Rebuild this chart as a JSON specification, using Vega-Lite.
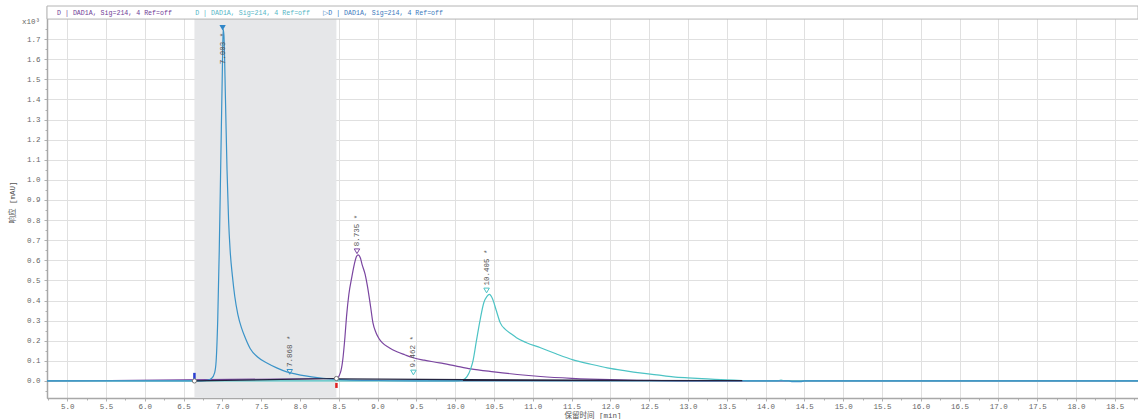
{
  "$schema": "https://vega.github.io/schema/vega-lite/v6.json",
  "width": 1091,
  "height": 392,
  "autosize": {"type": "none"},
  "padding": {"left": 47, "top": 6, "right": 0, "bottom": 21},
  "background": "white",
  "config": {
    "view": {"stroke": "#b4b4b4"},
    "axis": {
      "labelFont": "Liberation Mono",
      "labelFontSize": 7.5,
      "labelColor": "#666666",
      "labelOverlap": false,
      "titleFont": "Liberation Mono, Noto Sans CJK SC",
      "titleFontSize": 7.5,
      "titleFontWeight": "normal",
      "titleColor": "#555555",
      "grid": true,
      "gridColor": "#e0e0e0",
      "domainColor": "#a8a8a8",
      "domainWidth": 1.5,
      "tickColor": "#b0b0b0",
      "tickCount": 200
    }
  },
  "datasets": {
    "traces": [
      {"s":"p","t":4.74,"v":0},{"s":"p","t":8.47,"v":0.012},{"s":"p","t":8.52,"v":0.04},{"s":"p","t":8.55,"v":0.1},{"s":"p","t":8.58,"v":0.22},{"s":"p","t":8.6,"v":0.32},{"s":"p","t":8.63,"v":0.43},{"s":"p","t":8.67,"v":0.52},{"s":"p","t":8.7,"v":0.58},{"s":"p","t":8.73,"v":0.62},{"s":"p","t":8.75,"v":0.627},{"s":"p","t":8.78,"v":0.61},{"s":"p","t":8.8,"v":0.58},{"s":"p","t":8.84,"v":0.53},{"s":"p","t":8.87,"v":0.47},{"s":"p","t":8.91,"v":0.37},{"s":"p","t":8.94,"v":0.29},{"s":"p","t":8.98,"v":0.24},{"s":"p","t":9.02,"v":0.21},{"s":"p","t":9.06,"v":0.19},{"s":"p","t":9.15,"v":0.165},{"s":"p","t":9.25,"v":0.145},{"s":"p","t":9.35,"v":0.13},{"s":"p","t":9.46,"v":0.115},{"s":"p","t":9.6,"v":0.103},{"s":"p","t":9.8,"v":0.09},{"s":"p","t":10.0,"v":0.075},{"s":"p","t":10.2,"v":0.06},{"s":"p","t":10.5,"v":0.045},{"s":"p","t":10.8,"v":0.032},{"s":"p","t":11.1,"v":0.022},{"s":"p","t":11.5,"v":0.013},{"s":"p","t":12.0,"v":0.006},{"s":"p","t":12.4,"v":0.003},{"s":"p","t":13.0,"v":0},{"s":"p","t":18.8,"v":0},
      {"s":"c","t":4.74,"v":0},{"s":"c","t":10.0,"v":0},{"s":"c","t":10.1,"v":0.005},{"s":"c","t":10.15,"v":0.02},{"s":"c","t":10.2,"v":0.06},{"s":"c","t":10.23,"v":0.1},{"s":"c","t":10.27,"v":0.19},{"s":"c","t":10.32,"v":0.3},{"s":"c","t":10.37,"v":0.39},{"s":"c","t":10.41,"v":0.42},{"s":"c","t":10.44,"v":0.43},{"s":"c","t":10.48,"v":0.41},{"s":"c","t":10.53,"v":0.35},{"s":"c","t":10.58,"v":0.29},{"s":"c","t":10.65,"v":0.255},{"s":"c","t":10.72,"v":0.235},{"s":"c","t":10.79,"v":0.215},{"s":"c","t":10.92,"v":0.19},{"s":"c","t":11.1,"v":0.165},{"s":"c","t":11.3,"v":0.135},{"s":"c","t":11.52,"v":0.105},{"s":"c","t":11.75,"v":0.083},{"s":"c","t":11.96,"v":0.065},{"s":"c","t":12.2,"v":0.05},{"s":"c","t":12.38,"v":0.04},{"s":"c","t":12.6,"v":0.03},{"s":"c","t":12.81,"v":0.02},{"s":"c","t":13.0,"v":0.015},{"s":"c","t":13.25,"v":0.01},{"s":"c","t":13.5,"v":0.005},{"s":"c","t":13.7,"v":0.002},{"s":"c","t":13.8,"v":0},{"s":"c","t":14.15,"v":0},{"s":"c","t":14.2,"v":0.004},{"s":"c","t":14.25,"v":0},{"s":"c","t":18.8,"v":0},
      {"s":"b","t":4.74,"v":0},{"s":"b","t":6.64,"v":0},{"s":"b","t":6.8,"v":0.003},{"s":"b","t":6.86,"v":0.012},{"s":"b","t":6.9,"v":0.04},{"s":"b","t":6.92,"v":0.1},{"s":"b","t":6.94,"v":0.3},{"s":"b","t":6.96,"v":0.65},{"s":"b","t":6.98,"v":1.1},{"s":"b","t":7.0,"v":1.55},{"s":"b","t":7.01,"v":1.75},{"s":"b","t":7.02,"v":1.72},{"s":"b","t":7.04,"v":1.4},{"s":"b","t":7.06,"v":1.05},{"s":"b","t":7.08,"v":0.8},{"s":"b","t":7.1,"v":0.65},{"s":"b","t":7.13,"v":0.52},{"s":"b","t":7.16,"v":0.42},{"s":"b","t":7.2,"v":0.33},{"s":"b","t":7.25,"v":0.26},{"s":"b","t":7.3,"v":0.21},{"s":"b","t":7.36,"v":0.16},{"s":"b","t":7.45,"v":0.12},{"s":"b","t":7.58,"v":0.088},{"s":"b","t":7.7,"v":0.065},{"s":"b","t":7.83,"v":0.045},{"s":"b","t":7.95,"v":0.034},{"s":"b","t":8.05,"v":0.026},{"s":"b","t":8.15,"v":0.02},{"s":"b","t":8.3,"v":0.013},{"s":"b","t":8.45,"v":0.008},{"s":"b","t":8.6,"v":0.005},{"s":"b","t":9.0,"v":0.002},{"s":"b","t":9.5,"v":0},{"s":"b","t":14.3,"v":0},{"s":"b","t":14.35,"v":-0.004},{"s":"b","t":14.45,"v":-0.004},{"s":"b","t":14.5,"v":0},{"s":"b","t":18.8,"v":0}
    ],
    "bases": [
      {"g":1,"t":6.64,"v":0},{"g":1,"t":8.47,"v":0.012},
      {"g":2,"t":8.47,"v":0.01},{"g":2,"t":12.5,"v":0.002},
      {"g":3,"t":10.1,"v":0.003},{"g":3,"t":13.7,"v":0.001}
    ],
    "window": [{"start":6.64,"end":8.47}],
    "anchors": [{"t":6.64,"v":0},{"t":8.47,"v":0.012}],
    "events": [{"t":6.64,"lo":0.005,"hi":0.04,"kind":"start"},{"t":8.47,"lo":-0.01,"hi":-0.035,"kind":"end"}],
    "peaks": [
      {"s":"b","t":7.003,"v":1.757,"label":"7.003 *"},
      {"s":"b","t":7.868,"v":0.03,"label":"7.868 *"},
      {"s":"p","t":8.735,"v":0.63,"label":"8.735 *"},
      {"s":"c","t":9.462,"v":0.027,"label":"9.462 *"},
      {"s":"c","t":10.405,"v":0.435,"label":"10.405 *"}
    ]
  },
  "layer": [
    {
      "data": {"name": "window"},
      "mark": {"type": "rect", "color": "#e6e7e9"},
      "encoding": {
        "x": {"field": "start", "type": "quantitative", "title": "保留时间 [min]",
          "scale": {"domain": [4.74, 18.8], "nice": false, "zero": false},
          "axis": {
            "values": [4.75,5,5.25,5.5,5.75,6,6.25,6.5,6.75,7,7.25,7.5,7.75,8,8.25,8.5,8.75,9,9.25,9.5,9.75,10,10.25,10.5,10.75,11,11.25,11.5,11.75,12,12.25,12.5,12.75,13,13.25,13.5,13.75,14,14.25,14.5,14.75,15,15.25,15.5,15.75,16,16.25,16.5,16.75,17,17.25,17.5,17.75,18,18.25,18.5,18.75],
            "labelExpr": "abs(round(datum.value*2) - datum.value*2) > 0.01 ? '' : format(datum.value, '.1f')",
            "tickSize": {"condition": {"test": "abs(round(datum.value*2) - datum.value*2) > 0.01", "value": 2}, "value": 3},
            "gridOpacity": {"condition": {"test": "abs(round(datum.value*2) - datum.value*2) > 0.01", "value": 0}, "value": 1},
            "labelPadding": 1, "titlePadding": 2}},
        "x2": {"field": "end"},
        "y": {"datum": 1.8, "type": "quantitative", "title": "响应 [mAU]",
          "scale": {"domain": [-0.085, 1.865], "nice": false, "zero": false},
          "axis": {
            "values": [-0.05,0,0.05,0.1,0.15,0.2,0.25,0.3,0.35,0.4,0.45,0.5,0.55,0.6,0.65,0.7,0.75,0.8,0.85,0.9,0.95,1.0,1.05,1.1,1.15,1.2,1.25,1.3,1.35,1.4,1.45,1.5,1.55,1.6,1.65,1.7,1.75],
            "labelExpr": "abs(round(datum.value*10) - datum.value*10) > 0.01 ? '' : format(datum.value, '.1f')",
            "tickSize": {"condition": {"test": "abs(round(datum.value*10) - datum.value*10) > 0.01", "value": 2}, "value": 3},
            "gridOpacity": {"condition": {"test": "abs(round(datum.value*10) - datum.value*10) > 0.01", "value": 0}, "value": 1},
            "labelPadding": 4, "titlePadding": 10}},
        "y2": {"datum": -0.085}
      }
    },
    {
      "data": {"name": "traces"},
      "mark": {"type": "line", "strokeWidth": 1.2, "interpolate": "monotone"},
      "encoding": {
        "x": {"field": "t", "type": "quantitative", "title": "保留时间 [min]"},
        "y": {"field": "v", "type": "quantitative", "title": "响应 [mAU]"},
        "color": {"field": "s", "type": "nominal", "scale": {"domain": ["p","c","b"], "range": ["#7a45a0","#4cc3c4","#3a93c8"]}, "legend": null}
      }
    },
    {
      "data": {"name": "bases"},
      "mark": {"type": "line", "strokeWidth": 1.2, "color": "#23233f"},
      "encoding": {
        "x": {"field": "t", "type": "quantitative", "title": "保留时间 [min]"},
        "y": {"field": "v", "type": "quantitative", "title": "响应 [mAU]"},
        "detail": {"field": "g", "type": "nominal"}
      }
    },
    {
      "data": {"name": "events"},
      "mark": {"type": "rule", "strokeWidth": 2.5},
      "encoding": {
        "x": {"field": "t", "type": "quantitative", "title": "保留时间 [min]"},
        "y": {"field": "lo", "type": "quantitative", "title": "响应 [mAU]"},
        "y2": {"field": "hi"},
        "color": {"condition": {"test": "datum.kind == 'start'", "value": "#2b3fd0"}, "value": "#e02020"}
      }
    },
    {
      "data": {"name": "anchors"},
      "mark": {"type": "point", "shape": "circle", "filled": true, "fill": "white", "stroke": "#777777", "strokeWidth": 1, "size": 18, "opacity": 1},
      "encoding": {
        "x": {"field": "t", "type": "quantitative", "title": "保留时间 [min]"},
        "y": {"field": "v", "type": "quantitative", "title": "响应 [mAU]"}
      }
    },
    {
      "data": {"name": "peaks"},
      "transform": [{"filter": "datum.label != '7.003 *'"}],
      "mark": {"type": "point", "shape": "triangle-down", "filled": false, "size": 30, "strokeWidth": 1, "yOffset": -3, "opacity": 1},
      "encoding": {
        "x": {"field": "t", "type": "quantitative", "title": "保留时间 [min]"},
        "y": {"field": "v", "type": "quantitative", "title": "响应 [mAU]"},
        "stroke": {"field": "s", "type": "nominal", "scale": {"domain": ["p","c","b"], "range": ["#7a45a0","#4cc3c4","#3a93c8"]}, "legend": null}
      }
    },
    {
      "data": {"name": "peaks"},
      "transform": [{"filter": "datum.label == '7.003 *'"}],
      "mark": {"type": "point", "shape": "triangle-down", "filled": true, "size": 40, "color": "#2f86c8", "opacity": 1},
      "encoding": {
        "x": {"field": "t", "type": "quantitative", "title": "保留时间 [min]"},
        "y": {"field": "v", "type": "quantitative", "title": "响应 [mAU]"}
      }
    },
    {
      "data": {"name": "peaks"},
      "transform": [{"filter": "datum.label != '7.003 *'"}],
      "mark": {"type": "text", "angle": 270, "align": "left", "baseline": "middle", "dx": 8, "font": "Liberation Mono", "fontSize": 7.5, "color": "#555555"},
      "encoding": {
        "x": {"field": "t", "type": "quantitative", "title": "保留时间 [min]"},
        "y": {"field": "v", "type": "quantitative", "title": "响应 [mAU]"},
        "text": {"field": "label"}
      }
    },
    {
      "data": {"name": "peaks"},
      "transform": [{"filter": "datum.label == '7.003 *'"}],
      "mark": {"type": "text", "angle": 270, "align": "right", "baseline": "middle", "dx": -5, "font": "Liberation Mono", "fontSize": 7.5, "color": "#555555"},
      "encoding": {
        "x": {"field": "t", "type": "quantitative", "title": "保留时间 [min]"},
        "y": {"field": "v", "type": "quantitative", "title": "响应 [mAU]"},
        "text": {"field": "label"}
      }
    },
    {
      "data": {"values": [{}]},
      "mark": {"type": "rect", "fill": "white", "stroke": "#b4b4b4", "strokeWidth": 1},
      "encoding": {
        "x": {"datum": 4.74, "type": "quantitative", "title": "保留时间 [min]"},
        "x2": {"datum": 18.8},
        "y": {"datum": 1.8, "type": "quantitative", "title": "响应 [mAU]"},
        "y2": {"datum": 1.865}
      }
    },
    {
      "data": {"values": [{"label": "D | DAD1A, Sig=214, 4 Ref=off"}]},
      "mark": {"type": "text", "align": "left", "baseline": "middle", "font": "Liberation Mono", "fontSize": 6.6, "color": "#6f3d96"},
      "encoding": {
        "x": {"datum": 4.87, "type": "quantitative", "title": "保留时间 [min]"},
        "y": {"datum": 1.829, "type": "quantitative", "title": "响应 [mAU]"},
        "text": {"field": "label"}
      }
    },
    {
      "data": {"values": [{"label": "D | DAD1A, Sig=214, 4 Ref=off"}]},
      "mark": {"type": "text", "align": "left", "baseline": "middle", "font": "Liberation Mono", "fontSize": 6.6, "color": "#55b6c6"},
      "encoding": {
        "x": {"datum": 6.65, "type": "quantitative", "title": "保留时间 [min]"},
        "y": {"datum": 1.829, "type": "quantitative", "title": "响应 [mAU]"},
        "text": {"field": "label"}
      }
    },
    {
      "data": {"values": [{"label": "▷D | DAD1A, Sig=214, 4 Ref=off"}]},
      "mark": {"type": "text", "align": "left", "baseline": "middle", "font": "Liberation Mono", "fontSize": 6.6, "color": "#3b78bd"},
      "encoding": {
        "x": {"datum": 8.3, "type": "quantitative", "title": "保留时间 [min]"},
        "y": {"datum": 1.829, "type": "quantitative", "title": "响应 [mAU]"},
        "text": {"field": "label"}
      }
    },
    {
      "data": {"values": [{"label": "x10³"}]},
      "mark": {"type": "text", "align": "right", "baseline": "middle", "dx": -7, "font": "Liberation Mono", "fontSize": 7.5, "color": "#666666"},
      "encoding": {
        "x": {"datum": 4.74, "type": "quantitative", "title": "保留时间 [min]"},
        "y": {"datum": 1.786, "type": "quantitative", "title": "响应 [mAU]"},
        "text": {"field": "label"}
      }
    }
  ]
}
